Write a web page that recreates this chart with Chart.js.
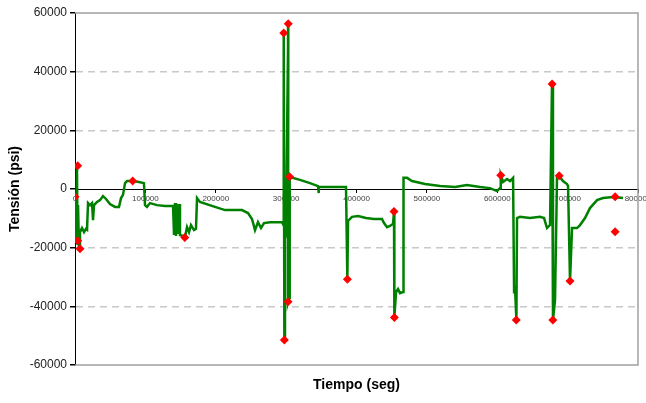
<!DOCTYPE html>
<html>
<head>
<meta charset="utf-8">
<script src="https://cdn.jsdelivr.net/npm/chart.js@4"></script>
<style>
  html, body { margin: 0; padding: 0; background: #fff; }
  #wrap { width: 646px; height: 403px; }
</style>
</head>
<body>
<div id="wrap"><canvas id="chart"></canvas></div>
<script>
// tension trace (time in s, stress in psi)
const traceX = [0, 1400, 2800, 3600, 4300, 5700, 7100, 9900, 12800, 15600, 17100, 18500, 21300, 24200, 25600, 27000,
  31300, 35500, 39800, 44100, 49700, 56800, 62500, 65400, 68200, 71100, 73900, 82400, 90900, 98000, 99500, 102300,
  106600, 116500, 127900, 139300, 140700, 142100, 143500, 144900, 146400, 147800, 149200, 153400, 156300, 159200,
  162000, 164800, 169100, 171900, 173400, 177600, 198900, 213200, 237300, 245800, 251500, 255800, 260000, 264300,
  268600, 277100, 294100, 296200, 296600, 297500, 298400, 299800, 303100, 302700, 304100, 305100, 319700, 333900,
  345300, 346000, 346700, 385100, 387000, 388000, 393600, 402100, 413500, 424900, 436200, 439100, 443400, 447600,
  451900, 453300, 453800, 456200, 459000, 461800, 466100, 466800, 471800, 478900, 497400, 518700, 540000, 557000,
  575500, 589700, 599700, 604000, 605000, 608300, 613900, 618200, 622500, 623900, 625300, 627200, 628100, 632300,
  646500, 660800, 666500, 670700, 675000, 677800, 679200, 682100, 684900, 687800, 693400, 699100, 700600, 703400,
  706300, 713400, 717600, 724700, 731800, 741800, 750300, 764500, 778700];
const traceY = [-2700, -17400, 7800, -19100, -5500, -20500, -14700, -13300, -14700, -13600, -13900, -4800, -5500, -4800, -10600, -5500,
  -4400, -3800, -2400, -3400, -5100, -6100, -6100, -3100, -2000, 2000, 2700, 2700, 2400, 2000, -5500, -6100,
  -4800, -5500, -5800, -5800, -15700, -4800, -16000, -5100, -15300, -5100, -15700, -16000, -16400, -13000,
  -14700, -12300, -14000, -13600, -3100, -4400, -6100, -7200, -7200, -8200, -10200, -14000, -11300, -13300,
  -11600, -11300, -11300, -12300, 53200, -51500, -12600, -14000, 56300, -38500, -37200, 4100, 3100, 2000,
  1000, -1400, 700, 700, -30700, -10900, -9500, -9200, -9900, -10200, -10200, -11600, -13000, -12600,
  -11900, -7800, -43600, -35100, -34100, -35500, -35100, 3800, 3800, 2700, 1700, 1000, 700, 1400,
  700, 300, -700, 300, 4800, 2400, 3400, 2700, 3800, -34400, -33800, -44700, -9900, -9500,
  -9900, -9500, -9900, -13300, -12300, 35800, -44700, -37900, 3800, 4400, 2700, 1700, 1000, -31400,
  -13300, -13300, -12300, -9900, -6500, -3800, -3100, -2700, -3100];

// red diamond markers
const markX = [3800, 0, 3800, 7100, 82000, 156000, 296600, 303000, 305000, 302700, 297500, 387000, 453300, 453800,
  605000, 627000, 679000, 678000, 688000, 703400, 767500, 767500];
const markY = [7900, -2600, -17600, -20400, 2700, -16500, 53200, 56300, 4200, -38400, -51500, -30800, -7700, -43800,
  4700, -44700, -44700, 35800, 4500, -31400, -2600, -14600];

const xTicks = [0, 100000, 200000, 300000, 400000, 500000, 600000, 700000, 800000];
const yTicks = [-60000, -40000, -20000, 0, 20000, 40000, 60000];

const tracePts = traceX.map((x, i) => ({ x: x, y: traceY[i] }));
const markPts = markX.map((x, i) => ({ x: x, y: markY[i] }));

// grey frame round the plot area
const framePlugin = {
  id: 'frame',
  beforeDatasetsDraw(chart) {
    const a = chart.chartArea;
    const c = chart.ctx;
    c.save();
    c.strokeStyle = '#a0a0a0';
    c.lineWidth = 1.5;
    c.beginPath();
    c.moveTo(a.left, a.top);
    c.lineTo(a.right, a.top);
    c.lineTo(a.right, a.bottom);
    c.lineTo(a.left, a.bottom);
    c.stroke();
    c.restore();
  }
};

new Chart(document.getElementById('chart'), {
  type: 'scatter',
  data: {
    datasets: [
      {
        label: 'puntos',
        data: markPts,
        pointStyle: 'rectRot',
        pointRadius: 4.5,
        backgroundColor: '#ff0000',
        borderColor: '#ff0000',
        borderWidth: 0
      },
      {
        label: 'Tensión',
        data: tracePts,
        showLine: true,
        borderColor: '#008000',
        borderWidth: 2.5,
        pointRadius: 0,
        tension: 0
      }
    ]
  },
  options: {
    responsive: true,
    maintainAspectRatio: false,
    animation: false,
    layout: { padding: { top: 13, right: 8, left: 0, bottom: 0 } },
    plugins: { legend: { display: false }, tooltip: { enabled: false } },
    scales: {
      x: {
        type: 'linear',
        position: { y: 0 },
        min: 0,
        max: 800000,
        afterBuildTicks: s => { s.ticks = xTicks.map(v => ({ value: v })); },
        afterFit: s => { s.paddingLeft = 0; s.paddingRight = 0; },
        ticks: {
          callback: v => String(v),
          font: { family: 'Liberation Sans', size: 8 },
          color: '#444',
          padding: 2,
          maxRotation: 0,
          autoSkip: false
        },
        grid: { drawOnChartArea: false, tickLength: 3, color: '#000' },
        border: { color: '#000', width: 1 }
      },
      xb: {
        type: 'linear',
        position: 'bottom',
        min: 0,
        max: 800000,
        afterFit: s => { s.height = 38; s.paddingLeft = 0; s.paddingRight = 0; },
        ticks: { display: false },
        grid: { display: false },
        border: { display: false },
        title: {
          display: true,
          text: 'Tiempo (seg)',
          color: '#000',
          font: { family: 'Liberation Sans', size: 14, weight: 'bold' },
          padding: { top: 0, bottom: 9 }
        }
      },
      y: {
        position: 'left',
        min: -60000,
        max: 60000,
        afterBuildTicks: s => { s.ticks = yTicks.map(v => ({ value: v })); },
        afterFit: s => { s.width = 75; },
        ticks: {
          callback: v => String(v),
          font: { family: 'Liberation Sans', size: 12 },
          color: '#222',
          padding: 3
        },
        grid: {
          color: c => (c.tick && (c.tick.value === 0 || Math.abs(c.tick.value) === 60000)) ? 'rgba(0,0,0,0)' : '#c8c8c8',
          tickColor: '#000',
          tickLength: 5,
          tickBorderDash: [],
          lineWidth: 1.5
        },
        border: { color: '#000', width: 1, dash: [7, 5] },
        title: {
          display: true,
          text: 'Tensión (psi)',
          color: '#000',
          font: { family: 'Liberation Sans', size: 14, weight: 'bold' },
          padding: { top: 7, bottom: 0 }
        }
      }
    }
  },
  plugins: [framePlugin]
});
</script>
</body>
</html>
